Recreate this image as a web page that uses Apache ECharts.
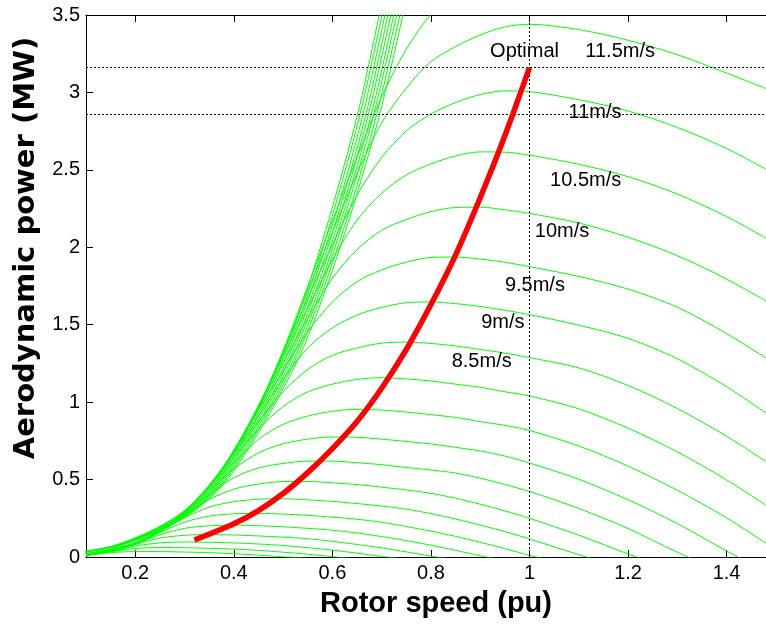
<!DOCTYPE html>
<html>
<head>
<meta charset="utf-8">
<title>Aerodynamic power vs rotor speed</title>
<script src="https://cdn.jsdelivr.net/npm/echarts@6/dist/echarts.min.js"></script>
<style>
  html, body { margin: 0; padding: 0; background: #fff; }
  #chart { width: 766px; height: 628px; }
</style>
</head>
<body>
<div id="chart"></div>
<script>
// wind speed (m/s) of each green power curve
const windSpeeds = [2.5, 3, 3.5, 4, 4.5, 5, 5.5, 6, 6.5, 7, 7.5, 8, 8.5, 9, 9.5, 10, 10.5, 11, 11.5, 12];

// rotor speed (pu) samples shared by those curves
const speedGrid = [0.1, 0.15, 0.2, 0.25, 0.3, 0.35, 0.4, 0.45, 0.5, 0.55, 0.6, 0.65, 0.7, 0.75,
  0.8, 0.85, 0.9, 0.95, 1.0, 1.1, 1.2, 1.3, 1.4, 1.48];

// aerodynamic power (MW) read along speedGrid, one row per wind speed
const powerRows = [
  [0.011, 0.028, 0.035, 0.035, 0.032, 0.028, 0.021, 0.012, 0.001, -0.008],
  [0.011, 0.034, 0.055, 0.061, 0.060, 0.056, 0.051, 0.043, 0.031, 0.018, 0.002, -0.012],
  [0.011, 0.036, 0.071, 0.091, 0.097, 0.095, 0.091, 0.084, 0.074, 0.060, 0.044, 0.025, 0.004, -0.015],
  [0.011, 0.036, 0.080, 0.122, 0.140, 0.145, 0.142, 0.136, 0.128, 0.118, 0.101, 0.081, 0.059, 0.033, 0.006, -0.019],
  [0.011, 0.036, 0.085, 0.143, 0.185, 0.201, 0.206, 0.202, 0.195, 0.185, 0.173, 0.155, 0.132, 0.106, 0.076, 0.043, 0.008, -0.023],
  [0.011, 0.036, 0.085, 0.157, 0.225, 0.264, 0.279, 0.282, 0.277, 0.269, 0.257, 0.244, 0.224, 0.197, 0.167, 0.133, 0.095, 0.054, 0.011, -0.067],
  [0.011, 0.037, 0.085, 0.164, 0.252, 0.322, 0.357, 0.373, 0.376, 0.369, 0.359, 0.345, 0.329, 0.309, 0.280, 0.245, 0.206, 0.164, 0.117, 0.015, -0.079],
  [0.012, 0.037, 0.086, 0.167, 0.271, 0.371, 0.438, 0.471, 0.487, 0.488, 0.479, 0.468, 0.451, 0.433, 0.411, 0.380, 0.341, 0.298, 0.250, 0.141, 0.020, -0.093],
  [0.013, 0.037, 0.086, 0.166, 0.283, 0.405, 0.512, 0.575, 0.604, 0.619, 0.619, 0.609, 0.596, 0.578, 0.562, 0.542, 0.509, 0.468, 0.423, 0.314, 0.184, 0.031, -0.107],
  [0.013, 0.036, 0.087, 0.166, 0.287, 0.431, 0.569, 0.672, 0.731, 0.761, 0.775, 0.773, 0.761, 0.746, 0.730, 0.708, 0.685, 0.652, 0.607, 0.502, 0.370, 0.216, 0.039, -0.093],
  [0.014, 0.037, 0.087, 0.167, 0.287, 0.448, 0.610, 0.760, 0.856, 0.910, 0.941, 0.954, 0.949, 0.936, 0.919, 0.901, 0.874, 0.850, 0.817, 0.717, 0.587, 0.431, 0.253, 0.089],
  [0.015, 0.038, 0.088, 0.168, 0.288, 0.454, 0.643, 0.826, 0.972, 1.066, 1.116, 1.147, 1.158, 1.150, 1.136, 1.116, 1.096, 1.067, 1.040, 0.957, 0.832, 0.679, 0.498, 0.334],
  [0.016, 0.038, 0.088, 0.169, 0.286, 0.457, 0.665, 0.875, 1.068, 1.211, 1.302, 1.349, 1.381, 1.388, 1.379, 1.363, 1.340, 1.317, 1.288, 1.221, 1.108, 0.959, 0.780, 0.616],
  [0.017, 0.040, 0.086, 0.171, 0.289, 0.453, 0.676, 0.915, 1.148, 1.350, 1.479, 1.562, 1.612, 1.642, 1.647, 1.636, 1.618, 1.593, 1.565, 1.497, 1.412, 1.280, 1.100, 0.930],
  [0.018, 0.042, 0.086, 0.170, 0.290, 0.457, 0.681, 0.947, 1.204, 1.454, 1.646, 1.778, 1.854, 1.904, 1.934, 1.937, 1.924, 1.903, 1.875, 1.812, 1.730, 1.613, 1.443, 1.284],
  [0.019, 0.044, 0.089, 0.171, 0.290, 0.453, 0.681, 0.962, 1.255, 1.542, 1.800, 1.984, 2.110, 2.179, 2.230, 2.257, 2.259, 2.242, 2.219, 2.157, 2.065, 1.946, 1.795, 1.653],
  [0.020, 0.046, 0.090, 0.172, 0.293, 0.458, 0.681, 0.969, 1.294, 1.609, 1.919, 2.175, 2.349, 2.467, 2.538, 2.590, 2.616, 2.614, 2.595, 2.536, 2.456, 2.344, 2.198, 2.059],
  [0.020, 0.047, 0.090, 0.169, 0.295, 0.461, 0.680, 0.972, 1.316, 1.671, 2.017, 2.336, 2.580, 2.752, 2.860, 2.935, 2.986, 3.010, 3.005, 2.953, 2.880, 2.774, 2.638, 2.504],
  [0.021, 0.048, 0.089, 0.165, 0.292, 0.458, 0.674, 0.963, 1.324, 1.720, 2.098, 2.477, 2.804, 3.027, 3.199, 3.296, 3.371, 3.423, 3.440, 3.406, 3.337, 3.244, 3.125, 3.025],
  [0.022, 0.051, 0.094, 0.170, 0.296, 0.464, 0.684, 0.973, 1.333, 1.747, 2.169, 2.582, 2.970, 3.279, 3.506, 3.666]
];

// higher wind speeds: only the steep left part shows before leaving the top
const steepWindSpeeds = [12.5, 13, 13.5, 14, 14.5, 15, 15.5, 16, 16.5];
const steepPower = [0.014, 0.037, 0.068, 0.125, 0.201, 0.305, 0.461, 0.706, 0.996, 1.337, 1.778, 2.303, 2.909, 3.656];
const steepSpeedRows = [
  [0.054, 0.108, 0.162, 0.215, 0.269, 0.323, 0.377, 0.431, 0.485, 0.539, 0.592, 0.646, 0.700, 0.754],
  [0.053, 0.107, 0.160, 0.214, 0.267, 0.320, 0.374, 0.427, 0.481, 0.534, 0.587, 0.641, 0.694, 0.748],
  [0.053, 0.106, 0.159, 0.212, 0.265, 0.318, 0.371, 0.424, 0.477, 0.530, 0.582, 0.635, 0.688, 0.741],
  [0.053, 0.105, 0.158, 0.210, 0.263, 0.315, 0.368, 0.420, 0.473, 0.525, 0.578, 0.630, 0.683, 0.735],
  [0.052, 0.104, 0.156, 0.208, 0.261, 0.313, 0.365, 0.417, 0.469, 0.521, 0.573, 0.625, 0.677, 0.729],
  [0.052, 0.103, 0.155, 0.207, 0.258, 0.310, 0.362, 0.413, 0.465, 0.517, 0.568, 0.620, 0.672, 0.723],
  [0.051, 0.102, 0.154, 0.205, 0.256, 0.307, 0.359, 0.410, 0.461, 0.512, 0.563, 0.615, 0.666, 0.717],
  [0.051, 0.102, 0.152, 0.203, 0.254, 0.305, 0.356, 0.406, 0.457, 0.508, 0.559, 0.609, 0.660, 0.711],
  [0.050, 0.101, 0.151, 0.201, 0.252, 0.302, 0.352, 0.403, 0.453, 0.504, 0.554, 0.604, 0.655, 0.705]
];

// optimal (maximum power) trajectory, red
const optimalSpeed = [0.32, 0.4, 0.45, 0.5, 0.55, 0.6, 0.65, 0.7, 0.75, 0.8, 0.85, 0.9, 0.95, 1.0];
const optimalPower = [0.11, 0.215, 0.30, 0.41, 0.545, 0.70, 0.875, 1.09, 1.34, 1.63, 1.95, 2.32, 2.72, 3.16];

// dotted reference lines
const refPowerLevels = [3.16, 2.86];
const refSpeed = 1.0;

const speedTicks = [0.2, 0.4, 0.6, 0.8, 1, 1.2, 1.4];

// text annotations inside the plot
const labelTexts = ['Optimal', '11.5m/s', '11m/s', '10.5m/s', '10m/s', '9.5m/s', '9m/s', '8.5m/s'];
const labelSpeeds = [0.99, 1.184, 1.133, 1.114, 1.066, 1.011, 0.946, 0.903];
const labelPowers = [3.263, 3.262, 2.868, 2.431, 2.099, 1.753, 1.516, 1.264];

const font = 'Liberation Sans, Arial, Helvetica, sans-serif';
const green = '#00ff00';

const chart = echarts.init(document.getElementById('chart'));

const series = [];

powerRows.forEach((row, k) => {
  series.push({
    name: windSpeeds[k] + 'm/s',
    type: 'line',
    data: row.map((p, i) => [speedGrid[i], p]),
    symbol: 'none',
    smooth: 0.3,
    clip: true,
    silent: true,
    lineStyle: { color: green, width: 1 },
    z: 2
  });
});

steepSpeedRows.forEach((row, k) => {
  series.push({
    name: steepWindSpeeds[k] + 'm/s',
    type: 'line',
    data: row.map((w, i) => [w, steepPower[i]]),
    symbol: 'none',
    smooth: 0.3,
    clip: true,
    silent: true,
    lineStyle: { color: green, width: 1 },
    z: 2
  });
});

// dotted guides
series.push({
  type: 'line',
  data: [],
  silent: true,
  markLine: {
    symbol: 'none',
    silent: true,
    animation: false,
    label: { show: false },
    lineStyle: { color: '#000', type: [2, 2], width: 1 },
    data: [
      ...refPowerLevels.map((v) => ({ yAxis: v })),
      { xAxis: refSpeed }
    ]
  },
  z: 3
});

series.push({
  name: 'Optimal',
  type: 'line',
  data: optimalSpeed.map((w, i) => [w, optimalPower[i]]),
  symbol: 'none',
  smooth: 0.3,
  silent: true,
  lineStyle: { color: '#ff0000', width: 5.5 },
  z: 5
});

// annotation texts, centred on their points
// (scatter defaults to 0.8 opacity, which would grey the text)
series.push({
  type: 'scatter',
  data: labelSpeeds.map((w, i) => [w, labelPowers[i]]),
  symbolSize: 0,
  silent: true,
  itemStyle: { color: '#000', opacity: 1 },
  label: {
    show: true,
    position: [0, 0],
    align: 'center',
    verticalAlign: 'middle',
    formatter: (p) => labelTexts[p.dataIndex],
    fontSize: 20,
    fontFamily: font,
    color: '#000',
    opacity: 1,
    textBorderWidth: 0
  },
  emphasis: { disabled: true },
  z: 6
});

const option = {
  animation: false,
  backgroundColor: '#fff',
  grid: { left: 86, top: 15, width: 681, height: 542, show: false },
  xAxis: [
    {
      type: 'value',
      min: 0.1,
      max: 1.48,
      position: 'bottom',
      axisLine: { show: true, onZero: false, lineStyle: { color: '#000', width: 1 } },
      axisTick: { show: true, inside: true, length: 7, customValues: speedTicks, lineStyle: { color: '#000' } },
      axisLabel: { customValues: speedTicks, fontSize: 20, fontFamily: font, color: '#000', margin: 6 },
      splitLine: { show: false },
      name: 'Rotor speed (pu)',
      nameLocation: 'middle',
      nameGap: 32,
      nameTextStyle: { fontSize: 29, fontWeight: 'bold', fontFamily: font, color: '#000', padding: [0, 0, 0, 20] }
    },
    {
      type: 'value',
      min: 0.1,
      max: 1.48,
      position: 'top',
      axisLine: { show: true, onZero: false, lineStyle: { color: '#000', width: 1 } },
      axisTick: { show: true, inside: true, length: 7, customValues: speedTicks, lineStyle: { color: '#000' } },
      axisLabel: { show: false },
      splitLine: { show: false }
    }
  ],
  yAxis: [
    {
      type: 'value',
      min: 0,
      max: 3.5,
      interval: 0.5,
      position: 'left',
      axisLine: { show: true, onZero: false, lineStyle: { color: '#000', width: 1 } },
      axisTick: { show: true, inside: true, length: 7, lineStyle: { color: '#000' } },
      axisLabel: { fontSize: 20, fontFamily: font, color: '#000', margin: 6 },
      splitLine: { show: false },
      name: 'Aerodynamic power (MW)',
      nameLocation: 'middle',
      nameRotate: 90,
      nameGap: 45,
      nameTextStyle: { fontSize: 29, fontWeight: 'bold', fontFamily: 'DejaVu Sans, sans-serif', color: '#000', padding: [0, 0, 0, 76] }
    }
  ],
  series
};

chart.setOption(option);
</script>
</body>
</html>
